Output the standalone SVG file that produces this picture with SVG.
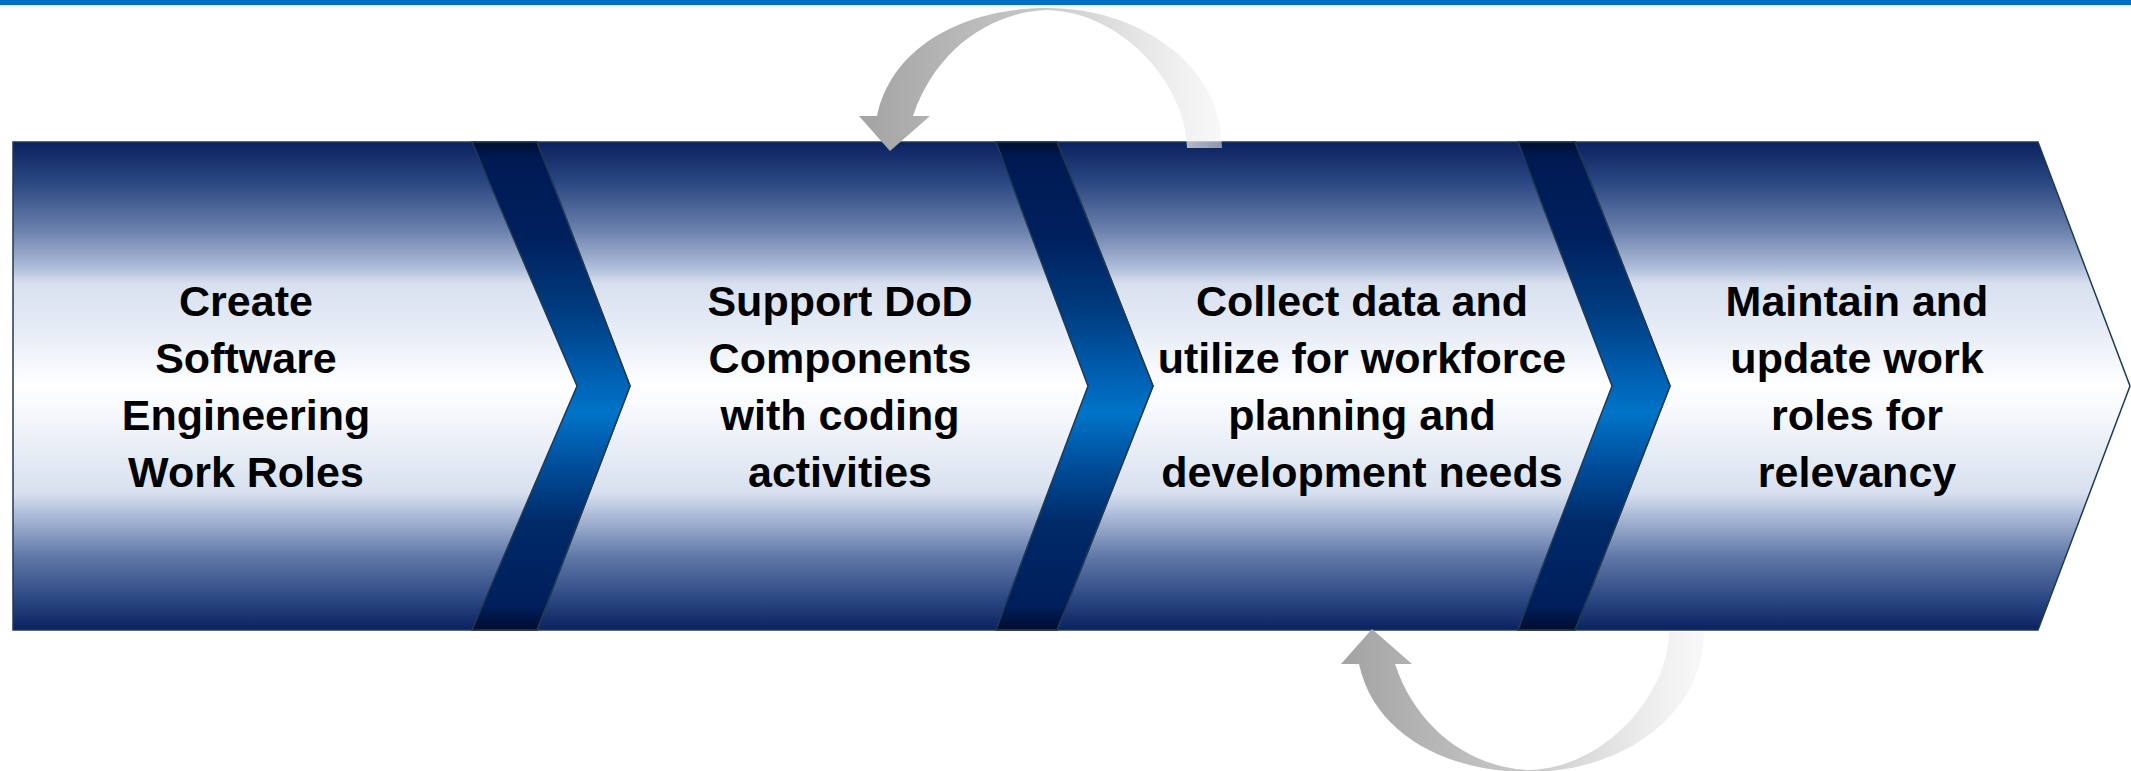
<svg xmlns="http://www.w3.org/2000/svg" xmlns:xlink="http://www.w3.org/1999/xlink" width="2131" height="771" viewBox="0 0 2131 771">
<defs>
<linearGradient id="segGrad" gradientUnits="userSpaceOnUse" x1="0" y1="142" x2="0" y2="630">
<stop offset="0" stop-color="#0a2260"/>
<stop offset="0.08" stop-color="#2a4680"/>
<stop offset="0.18" stop-color="#6a80ac"/>
<stop offset="0.26" stop-color="#b0bfda"/>
<stop offset="0.29" stop-color="#d8e0ef"/>
<stop offset="0.4" stop-color="#e9eef7"/>
<stop offset="0.5" stop-color="#ffffff"/>
<stop offset="0.62" stop-color="#eaeff7"/>
<stop offset="0.72" stop-color="#d8e0ef"/>
<stop offset="0.76" stop-color="#b0bfda"/>
<stop offset="0.85" stop-color="#6078a8"/>
<stop offset="0.94" stop-color="#2a4680"/>
<stop offset="1" stop-color="#0a2260"/>
</linearGradient>
<linearGradient id="chevGrad" gradientUnits="userSpaceOnUse" x1="0" y1="142" x2="0" y2="630">
<stop offset="0" stop-color="#000d2e"/>
<stop offset="0.03" stop-color="#001a52"/>
<stop offset="0.2" stop-color="#00205e"/>
<stop offset="0.35" stop-color="#003d80"/>
<stop offset="0.45" stop-color="#0058a8"/>
<stop offset="0.555" stop-color="#0074c8"/>
<stop offset="0.65" stop-color="#0052a0"/>
<stop offset="0.78" stop-color="#002a68"/>
<stop offset="0.95" stop-color="#001f5c"/>
<stop offset="1" stop-color="#000d2e"/>
</linearGradient>
<linearGradient id="arrowGrad" gradientUnits="userSpaceOnUse" x1="859" y1="0" x2="1222" y2="0">
<stop offset="0" stop-color="#a3a3a3"/>
<stop offset="0.5" stop-color="#c8c8c8"/>
<stop offset="0.82" stop-color="#e8e8e8" stop-opacity="0.9"/>
<stop offset="1" stop-color="#f2f2f2" stop-opacity="0.55"/>
</linearGradient>
<path id="loopArrow" d="M877,116 C893,42 970,8 1047,8 C1140,8 1222,65 1222,148 L1187,148 C1187,88 1125,12 1047,10 C990,12 935,50 913,116 L930,116 L890,151 L859,116 Z"/>
</defs>
<style>
.seg{fill:url(#segGrad);stroke:#203a55;stroke-width:1.5;stroke-linejoin:miter}
.chev{fill:url(#chevGrad);stroke:#203a55;stroke-width:1.5;stroke-linejoin:miter}
.lbl{font-family:"Liberation Sans",Arial,sans-serif;font-weight:bold;font-size:43px;fill:#000000;text-anchor:middle}
.loop{fill:url(#arrowGrad)}
</style>
<rect x="0" y="0" width="2131" height="5" fill="#0070c0"/>

<g id="step1">
<polygon class="seg" points="13,142 537,142 630,386 537,630 13,630"/>
<text class="lbl" x="246" y="316">Create</text>
<text class="lbl" x="246" y="373">Software</text>
<text class="lbl" x="246" y="430">Engineering</text>
<text class="lbl" x="246" y="487">Work Roles</text>
</g>
<g id="step2">
<polygon class="seg" points="537,142 1057,142 1153,386 1057,630 537,630 630,386"/>
<text class="lbl" x="840" y="316">Support DoD</text>
<text class="lbl" x="840" y="373">Components</text>
<text class="lbl" x="840" y="430">with coding</text>
<text class="lbl" x="840" y="487">activities</text>
</g>
<g id="step3">
<polygon class="seg" points="1057,142 1575,142 1670,386 1575,630 1057,630 1153,386"/>
<text class="lbl" x="1362" y="316">Collect data and</text>
<text class="lbl" x="1362" y="373">utilize for workforce</text>
<text class="lbl" x="1362" y="430">planning and</text>
<text class="lbl" x="1362" y="487">development needs</text>
</g>
<g id="step4">
<polygon class="seg" points="1575,142 2038,142 2130,386 2038,630 1575,630 1670,386"/>
<text class="lbl" x="1857" y="316">Maintain and</text>
<text class="lbl" x="1857" y="373">update work</text>
<text class="lbl" x="1857" y="430">roles for</text>
<text class="lbl" x="1857" y="487">relevancy</text>
</g>
<g id="chevron1"><polygon class="chev" points="472,142 537,142 630,386 537,630 472,630 577,386"/></g>
<g id="chevron2"><polygon class="chev" points="996,142 1057,142 1153,386 1057,630 996,630 1088,386"/></g>
<g id="chevron3"><polygon class="chev" points="1518,142 1575,142 1670,386 1575,630 1518,630 1612,386"/></g>

<g id="connectors">
<use xlink:href="#loopArrow" class="loop"/>
<use xlink:href="#loopArrow" class="loop" transform="translate(482,780) scale(1,-1)"/>
</g>
</svg>
